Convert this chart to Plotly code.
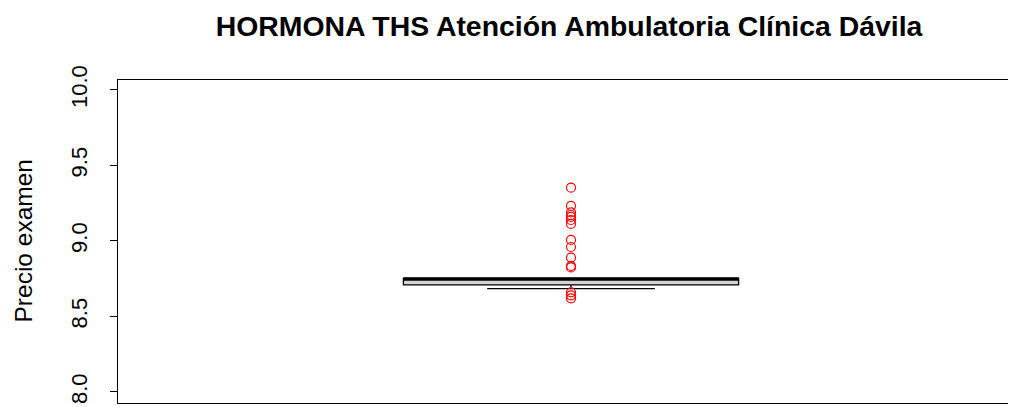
import plotly.graph_objects as go

# Box statistics (log price)
q1 = [8.709]
median = [8.748]
q3 = [8.752]
lowerfence = [8.685]
upperfence = [8.752]
box_x = [1]

# Outliers
outlier_y = [9.353, 9.232, 9.189, 9.172, 9.159, 9.139, 9.113, 9.007, 8.960,
             8.890, 8.835, 8.825, 8.660, 8.640, 8.620]
outlier_x = [1] * len(outlier_y)

title = "HORMONA THS Atención Ambulatoria Clínica Dávila"
y_title = "Precio examen"
y_ticks = [8.0, 8.5, 9.0, 9.5, 10.0]
y_ticktext = ["8.0", "8.5", "9.0", "9.5", "10.0"]

box_width = 0.37

fig = go.Figure()
fig.add_trace(go.Box(
    x=box_x, q1=q1, median=median, q3=q3,
    lowerfence=lowerfence, upperfence=upperfence,
    width=box_width, whiskerwidth=0.5,
    fillcolor="#d3d3d3", line=dict(color="black", width=1.3),
    boxpoints=False, showlegend=False, hoverinfo="skip",
))
# Thick median line as in R
fig.add_trace(go.Scatter(
    x=[box_x[0] - box_width / 2, box_x[0] + box_width / 2],
    y=[median[0], median[0]], mode="lines",
    line=dict(color="black", width=3.5), showlegend=False, hoverinfo="skip",
))
fig.add_trace(go.Scatter(
    x=outlier_x, y=outlier_y, mode="markers",
    marker=dict(symbol="circle-open", size=9, color="red", line=dict(width=1.2)),
    showlegend=False, hoverinfo="skip",
))

fig.add_annotation(
    text=y_title, textangle=-90, xref="paper", yref="paper",
    x=(15 - 110) / 906, y=0.5, xanchor="center", yanchor="middle",
    showarrow=False, font=dict(size=24.5, color="black"),
)

fig.update_layout(
    width=1016, height=407,
    margin=dict(l=110, r=0, t=72, b=12, autoexpand=False),
    paper_bgcolor="white", plot_bgcolor="white",
    font=dict(family="Liberation Sans, Arial, sans-serif", color="black"),
    title=dict(text="<b>" + title + "</b>", x=561 / 1016, xanchor="center",
               y=1 - 18 / 407, yanchor="middle",
               font=dict(size=28.4, color="black")),
    xaxis=dict(range=[0.5, 1.5], showgrid=False, zeroline=False,
               showticklabels=False, ticks="", showline=True, mirror=True,
               linecolor="black", linewidth=1.3, automargin=False),
    yaxis=dict(range=[7.927, 10.066], showgrid=False, zeroline=False,
               tickvals=y_ticks, ticktext=y_ticktext, tickangle=-90,
               ticks="outside", ticklen=7, tickcolor="black", tickwidth=1.3,
               tickfont=dict(size=22), ticklabelstandoff=14,
               showline=True, mirror=True, automargin=False,
               linecolor="black", linewidth=1.3),
)

fig.write_html("out.html")
